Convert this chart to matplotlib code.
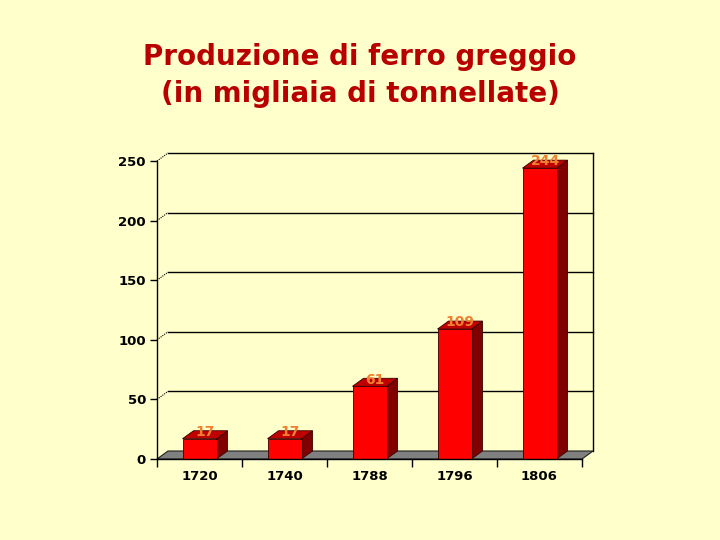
import matplotlib
matplotlib.use('Agg')
import matplotlib.pyplot as plt
from matplotlib.patches import Polygon

years = ['1720', '1740', '1788', '1796', '1806']
values = [17, 17, 61, 109, 244]
yticks = [0, 50, 100, 150, 200, 250]
title = 'Produzione di ferro greggio\n(in migliaia di tonnellate)'

BG = '#FFFFCC'
fig = plt.figure(figsize=(7.2, 5.4), dpi=100, facecolor=BG)
ax = fig.add_axes([157 / 720, 81 / 540, 425 / 720, 298 / 540])
ax.set_facecolor('none')
ax.set_xlim(-0.5, len(years) - 0.5)
ax.set_ylim(0, 250)

# depth offset expressed in data units (11 px right, 8 px up)
DX = 11 / 85
DY = 8 * 250 / 298
W = 0.4
xmin, xmax = -0.5, len(years) - 0.5

# back wall gridlines and connectors
for v in yticks[1:]:
    ax.plot([xmin + DX, xmax + DX], [v + DY, v + DY], color='black', lw=1.0,
            clip_on=False, zorder=1)
    ax.plot([xmin, xmin + DX], [v, v + DY], color='black', lw=0.8, ls=(0, (1, 1)),
            clip_on=False, zorder=1)
# right wall edge
ax.plot([xmax + DX, xmax + DX], [DY, 250 + DY], color='black', lw=1.0,
        clip_on=False, zorder=1)

# floor
floor = Polygon([(xmin, 0), (xmax, 0), (xmax + DX, DY), (xmin + DX, DY)],
                closed=True, facecolor='#808080', edgecolor='#202020', lw=0.8,
                clip_on=False, zorder=2)
ax.add_patch(floor)

# bars
for i, v in enumerate(values):
    x0, x1 = i - W / 2, i + W / 2
    side = Polygon([(x1, 0), (x1 + DX, DY), (x1 + DX, v + DY), (x1, v)],
                   closed=True, facecolor='#800000', edgecolor='#3A0000', lw=0.6,
                   clip_on=False, zorder=3)
    top = Polygon([(x0, v), (x1, v), (x1 + DX, v + DY), (x0 + DX, v + DY)],
                  closed=True, facecolor='#C00000', edgecolor='#3A0000', lw=0.6,
                  clip_on=False, zorder=3)
    ax.add_patch(side)
    ax.add_patch(top)
ax.bar(range(len(years)), values, width=W, color='#FF0000', edgecolor='#3A0000',
       lw=0.6, zorder=4, clip_on=False)

for i, v in enumerate(values):
    ax.annotate(str(v), (i + DX / 2, v + DY / 2), xytext=(0, 2),
                textcoords='offset points', ha='center', va='center',
                fontsize=10, fontweight='bold', color='#F08030', zorder=6,
                annotation_clip=False)

# axes styling
for s in ['top', 'right']:
    ax.spines[s].set_visible(False)
ax.spines['left'].set_linewidth(1.0)
ax.spines['bottom'].set_linewidth(1.0)
ax.spines['left'].set_zorder(5)
ax.spines['bottom'].set_zorder(5)
ax.set_yticks(yticks)
ax.set_yticklabels([str(t) for t in yticks])
ax.set_xticks(range(len(years)))
ax.set_xticklabels(years)
ax.set_xticks([i - 0.5 for i in range(len(years) + 1)], minor=True)
ax.tick_params(axis='x', which='major', length=0, pad=8)
ax.tick_params(axis='x', which='minor', length=6, width=1, direction='out')
ax.tick_params(axis='y', which='major', length=5, width=1, direction='out', pad=3)
for lab in ax.get_xticklabels() + ax.get_yticklabels():
    lab.set_fontweight('bold')
    lab.set_fontsize(9.5)

fig.text(0.5, 1 - 75.5 / 540, title, ha='center', va='center', fontsize=20,
         fontweight='bold', color='#B80000', linespacing=1.38)

fig.savefig('out.png', dpi=100, facecolor=BG)
